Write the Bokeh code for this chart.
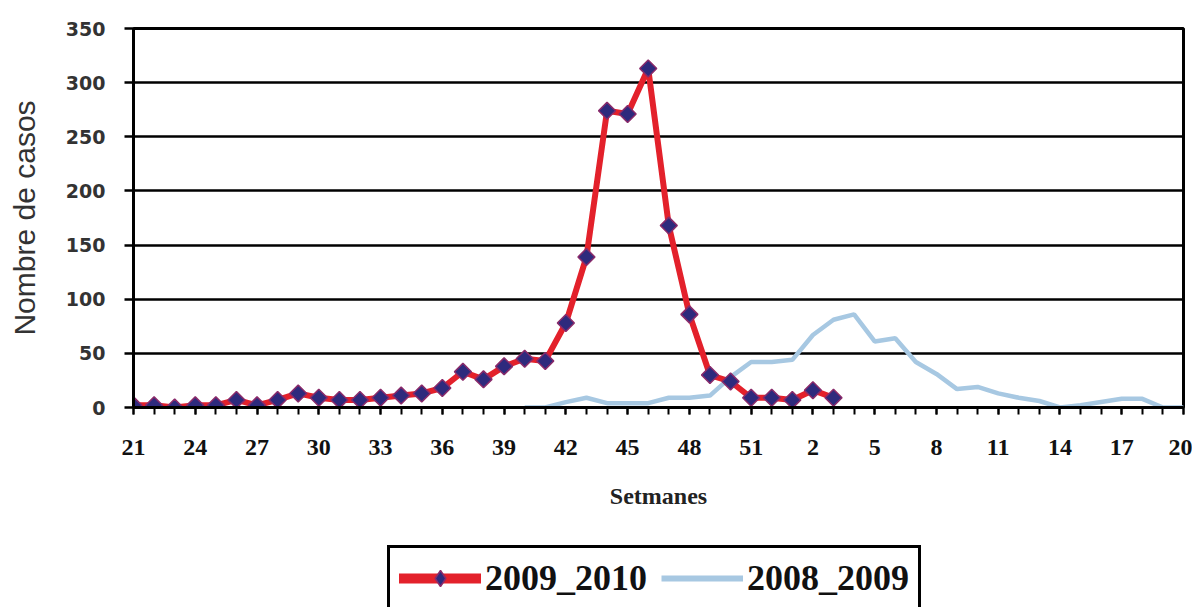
from bokeh.plotting import figure
from bokeh.layouts import column
from bokeh.models import Range1d, FixedTicker, Legend, LegendItem
from bokeh.embed import file_html
from bokeh.resources import INLINE

# Week categories shown on the x axis (week 21 of one year to week 20 of the next)
weeks = [21, 22, 23, 24, 25, 26, 27, 28, 29, 30, 31, 32, 33, 34, 35, 36, 37, 38, 39, 40,
         41, 42, 43, 44, 45, 46, 47, 48, 49, 50, 51, 52, 1, 2, 3, 4, 5, 6, 7, 8,
         9, 10, 11, 12, 13, 14, 15, 16, 17, 18, 19, 20]
tick_weeks = [21, 24, 27, 30, 33, 36, 39, 42, 45, 48, 51, 2, 5, 8, 11, 14, 17, 20]
y_ticks = [0, 50, 100, 150, 200, 250, 300, 350]

# 2009_2010 season: weeks 21 .. 3
start_2009_2010 = 21
cases_2009_2010 = [2, 2, 0, 2, 2, 7, 2, 7, 13, 9, 7, 7, 9, 11, 13, 18, 33, 26, 38, 45,
                   43, 78, 139, 274, 271, 313, 168, 86, 30, 24, 9, 9, 7, 16, 9]

# 2008_2009 season: weeks 40 .. 20
start_2008_2009 = 40
cases_2008_2009 = [0, 0, 5, 9, 4, 4, 4, 9, 9, 11, 28, 42, 42, 44, 67, 81, 86, 61, 64, 42,
                   31, 17, 19, 13, 9, 6, 0, 2, 5, 8, 8, 0, 0]

i0 = weeks.index(start_2009_2010)
x_a = [i0 + k for k in range(len(cases_2009_2010))]
i1 = weeks.index(start_2008_2009)
x_b = [i1 + k for k in range(len(cases_2008_2009))]

RED = "#e3212b"
BLUE = "#a7c8e2"
MFILL = "#2e2a7d"
MLINE = "#8a2a6a"

p = figure(width=1192, height=517, output_backend="svg", toolbar_location=None,
           x_range=Range1d(0, len(weeks) - 1), y_range=Range1d(0, 350),
           min_border_left=133, min_border_right=9, min_border_top=28, min_border_bottom=110)

p.background_fill_color = "white"
p.border_fill_color = "white"
p.outline_line_color = "black"
p.outline_line_width = 3

# x axis
tick_idx = [weeks.index(w) for w in tick_weeks]
p.xaxis.ticker = FixedTicker(ticks=tick_idx, minor_ticks=list(range(len(weeks))))
p.xaxis.major_label_overrides = {i: str(weeks[i]) for i in tick_idx}
p.xaxis.axis_line_width = 3
p.xaxis.axis_line_color = "black"
p.xaxis.major_tick_out = 7
p.xaxis.major_tick_in = 0
p.xaxis.minor_tick_out = 7
p.xaxis.minor_tick_in = 0
p.xaxis.major_tick_line_width = 2
p.xaxis.minor_tick_line_width = 2
p.xaxis.major_tick_line_color = "black"
p.xaxis.minor_tick_line_color = "black"
p.xaxis.major_label_text_font = "Liberation Serif"
p.xaxis.major_label_text_font_style = "bold"
p.xaxis.major_label_text_font_size = "24px"
p.xaxis.major_label_text_color = "#111111"
p.xaxis.major_label_standoff = 25
p.xaxis.axis_label = "Setmanes"
p.xaxis.axis_label_text_font = "Liberation Serif"
p.xaxis.axis_label_text_font_style = "bold"
p.xaxis.axis_label_text_font_size = "24px"
p.xaxis.axis_label_text_color = "#222222"
p.xaxis.axis_label_standoff = 25

# y axis
p.yaxis.ticker = FixedTicker(ticks=y_ticks)
p.yaxis.axis_line_width = 3
p.yaxis.axis_line_color = "black"
p.yaxis.major_tick_out = 9
p.yaxis.major_tick_in = 0
p.yaxis.major_tick_line_width = 2.5
p.yaxis.major_tick_line_color = "black"
p.yaxis.minor_tick_line_color = None
p.yaxis.major_label_text_font = "DejaVu Sans"
p.yaxis.major_label_text_font_style = "bold"
p.yaxis.major_label_text_font_size = "19px"
p.yaxis.major_label_text_color = "#333333"
p.yaxis.major_label_standoff = 19
p.yaxis.axis_label = "Nombre de casos"
p.yaxis.axis_label_text_font = "Liberation Sans"
p.yaxis.axis_label_text_font_style = "normal"
p.yaxis.axis_label_text_font_size = "30px"
p.yaxis.axis_label_text_color = "#333333"
p.yaxis.axis_label_standoff = 22

p.xgrid.grid_line_color = None
p.ygrid.grid_line_color = "black"
p.ygrid.grid_line_width = 2.5

p.line(x_b, cases_2008_2009, line_color=BLUE, line_width=4.5)
p.line(x_a, cases_2009_2010, line_color=RED, line_width=6)
p.scatter(x_a, cases_2009_2010, marker="square", angle=0.785398, size=12,
          fill_color=MFILL, line_color=MLINE, line_width=1.5)

# Legend strip below the chart (its ranges keep the series themselves out of view;
# the renderers only supply the legend swatches)
q = figure(width=1192, height=90, output_backend="svg", toolbar_location=None,
           x_range=Range1d(1000, 1001), y_range=Range1d(1000, 1001),
           x_axis_location=None, y_axis_location=None,
           min_border_left=0, min_border_right=0, min_border_top=0, min_border_bottom=0)
q.grid.visible = False
q.outline_line_color = None
q.background_fill_color = "white"
q.border_fill_color = "white"
lr = q.line(x_a, cases_2009_2010, line_color=RED, line_width=10, line_cap="round")
lm = q.scatter(x_a, cases_2009_2010, marker="diamond", size=24,
               fill_color=MFILL, line_color=MLINE, line_width=1.5)
lb = q.line(x_b, cases_2008_2009, line_color=BLUE, line_width=6)

legend = Legend(items=[LegendItem(label="2009_2010", renderers=[lr, lm]),
                       LegendItem(label="2008_2009", renderers=[lb])],
                location=(254, -4), orientation="horizontal")
legend.border_line_color = "black"
legend.border_line_alpha = 1
legend.border_line_width = 3
legend.background_fill_color = "white"
legend.background_fill_alpha = 1
legend.label_text_font = "Liberation Serif"
legend.label_text_font_style = "bold"
legend.label_text_font_size = "36px"
legend.label_text_color = "#111111"
legend.glyph_width = 82
legend.glyph_height = 40
legend.label_standoff = 4
legend.spacing = 14
legend.padding = 9
legend.margin = 0
q.add_layout(legend)

layout = column(p, q, spacing=0)
open("out.html", "w").write(file_html(layout, INLINE))
